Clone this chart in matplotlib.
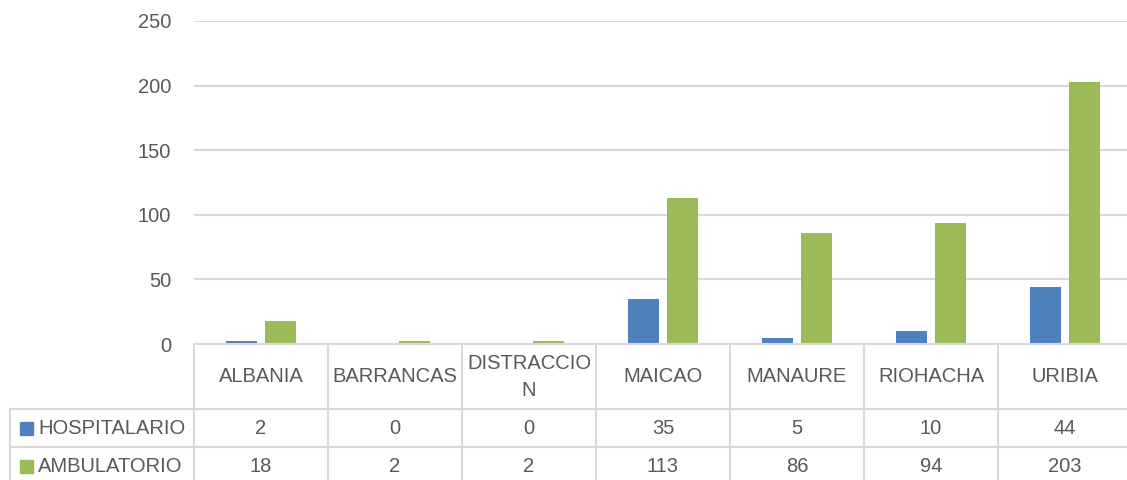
import matplotlib
matplotlib.use("Agg")
import matplotlib.pyplot as plt
import matplotlib.transforms as mtransforms
import numpy as np

categories = ["ALBANIA", "BARRANCAS", "DISTRACCION", "MAICAO", "MANAURE", "RIOHACHA", "URIBIA"]
header_labels = ["ALBANIA", "BARRANCAS", "DISTRACCIO\nN", "MAICAO", "MANAURE", "RIOHACHA", "URIBIA"]
series_names = ["HOSPITALARIO", "AMBULATORIO"]
hospitalario = [2, 0, 0, 35, 5, 10, 44]
ambulatorio = [18, 2, 2, 113, 86, 94, 203]
yticks = [0, 50, 100, 150, 200, 250]

colors = ["#4F81BD", "#9BBB59"]
txt = "#595959"
gridc = "#D9D9D9"
font = "Liberation Sans"
fs = 14.5

W, H = 1127, 480
fig = plt.figure(figsize=(W / 100, H / 100), dpi=100)
left_px, right_px, top_px, bot_px = 194, 1132, 21, 344
ax = fig.add_axes([left_px / W, 1 - bot_px / H, (right_px - left_px) / W, (bot_px - top_px) / H])
ax.set_xlim(-0.5, len(categories) - 0.5)
ax.set_ylim(0, 250)
x = np.arange(len(categories))
bw = 0.23
off = 0.143
ax.bar(x - off, hospitalario, bw, color=colors[0], zorder=3)
ax.bar(x + off, ambulatorio, bw, color=colors[1], zorder=3)
ax.set_yticks(yticks)
ax.set_yticklabels([str(v) for v in yticks], fontsize=fs, color=txt, fontfamily=font)
ax.tick_params(axis="y", length=0, pad=16.5)
ax.set_xticks([])
for s in ax.spines.values():
    s.set_visible(False)
ax.yaxis.grid(True, color=gridc, lw=1.5, zorder=0)
ax.set_axisbelow(True)

# overlay for table
tax = fig.add_axes([0, 0, 1, 1], facecolor="none")
tax.set_xlim(0, W)
tax.set_ylim(H, 0)
tax.axis("off")
tr = mtransforms.blended_transform_factory(ax.transData, tax.transData)

lw = 1.5
# horizontal lines
tax.plot([left_px, W + 10], [344, 344], color=gridc, lw=lw, clip_on=False)
tax.plot([10, W + 10], [409, 409], color=gridc, lw=lw, clip_on=False)
tax.plot([10, W + 10], [447, 447], color=gridc, lw=lw, clip_on=False)
# vertical lines
tax.plot([10, 10], [409, 490], color=gridc, lw=lw, clip_on=False)
for b in np.arange(-0.5, len(categories) + 0.5, 1.0):
    ax.plot([b, b], [344, 490], color=gridc, lw=lw, transform=tr, clip_on=False)

# header labels
for i, lab in enumerate(header_labels):
    tax.text(i, 377, lab, transform=tr, ha="center", va="center", fontsize=fs,
             color=txt, fontfamily=font, linespacing=1.5)

# rows
rows = [hospitalario, ambulatorio]
row_centers = [428, 466]
for r, (vals, yc) in enumerate(zip(rows, row_centers)):
    tax.add_patch(plt.Rectangle((20, yc - 6.5), 13, 13, color=colors[r]))
    tax.text(38, yc, series_names[r], ha="left", va="center", fontsize=fs,
             color=txt, fontfamily=font)
    for i, v in enumerate(vals):
        tax.text(i, yc, str(v), transform=tr, ha="center", va="center",
                 fontsize=fs, color=txt, fontfamily=font)

fig.savefig("out.png", dpi=100)
